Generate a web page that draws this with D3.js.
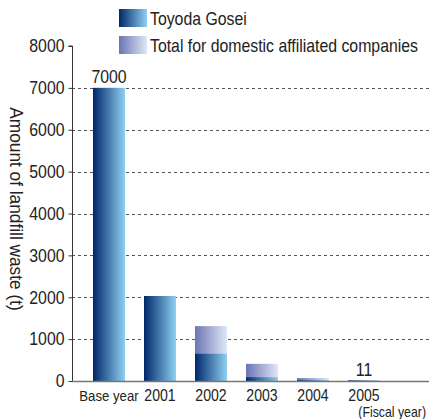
<!DOCTYPE html>
<html><head><meta charset="utf-8">
<script src="https://cdn.jsdelivr.net/npm/d3@7"></script>
<style>
body{margin:0;background:#fff;}
text{font-family:"Liberation Sans",Arial,sans-serif;fill:#222;}
</style></head><body>
<svg id="c" width="429" height="419"></svg>
<script>
const categories = ["Base year","2001","2002","2003","2004","2005"];
const toyodaGosei = [7000, 2030, 650, 90, 20, 11];
const domesticTotal = [7000, 2030, 1310, 410, 70, 20];
const yTicks = [0,1000,2000,3000,4000,5000,6000,7000,8000];
const valueLabels = [{i:0, text:"7000", v:7000},{i:5, text:"11", v:11}];

const svg = d3.select("#c");
const defs = svg.append("defs");
function grad(id, c1, c2){
  const g = defs.append("linearGradient").attr("id",id).attr("x1","0%").attr("x2","100%").attr("y1","0%").attr("y2","0%");
  g.append("stop").attr("offset","0%").attr("stop-color",c1);
  g.append("stop").attr("offset","100%").attr("stop-color",c2);
}
grad("gT","#00286a","#8fd0f2");
grad("gA","#6c74b4","#dfe8f6");

const x0 = 72, x1 = 429;
const y = d3.scaleLinear().domain([0,8000]).range([381,46]);
const x = d3.scaleBand().domain(categories).range([72.6, 400.4]).paddingInner(0.3725).paddingOuter(0.4);

// gridlines
svg.append("g").selectAll("line").data(yTicks.filter(d=>d>0 && d<8000)).join("line")
  .attr("x1",x0).attr("x2",x1).attr("y1",d=>Math.round(y(d))+0.5).attr("y2",d=>Math.round(y(d))+0.5)
  .attr("stroke","#555").attr("stroke-width",1.2).attr("stroke-dasharray","3,3");

// bars: affiliated total behind, Toyoda in front
svg.append("g").selectAll("rect").data(categories).join("rect")
  .attr("x",d=>x(d)).attr("width",x.bandwidth())
  .attr("y",(d,i)=>y(domesticTotal[i])).attr("height",(d,i)=>y(0)-y(domesticTotal[i]))
  .attr("fill","url(#gA)");
svg.append("g").selectAll("rect").data(categories).join("rect")
  .attr("x",d=>x(d)).attr("width",x.bandwidth())
  .attr("y",(d,i)=>y(toyodaGosei[i])).attr("height",(d,i)=>Math.max(1,y(0)-y(toyodaGosei[i])))
  .attr("fill","url(#gT)");

// y axis
const ya = d3.axisLeft(y).tickValues(yTicks).tickSize(4).tickPadding(4).tickFormat(d3.format("d"));
const yg = svg.append("g").attr("transform",`translate(${x0+0.5},0)`).call(ya);
yg.select(".domain").attr("stroke","#333").attr("d",`M-4,${y(8000)}H0V${y(0)}`);
yg.selectAll(".tick line").attr("stroke","#333");
yg.selectAll(".tick text").attr("class","cond").style("font-size","18px").attr("fill","#222");

// x baseline
svg.append("line").attr("x1",x0).attr("x2",x1).attr("y1",381.5).attr("y2",381.5).attr("stroke","#777").attr("stroke-width",1.5);

// x labels
const xa = d3.axisBottom(x).tickSize(0).tickPadding(0);
const xg = svg.append("g").attr("transform","translate(0,381)").call(xa);
xg.select(".domain").remove();
xg.selectAll(".tick text").attr("class","cond").attr("dy",null).attr("y",20).style("font-size","16px").attr("fill","#222");
xg.selectAll(".tick text").filter(d=>d==="Base year").style("font-size","15px");

svg.append("text").attr("class","cond").attr("x",426).attr("y",417).attr("text-anchor","end").style("font-size","14px").text("(Fiscal year)");

// value labels
svg.append("g").selectAll("text").data(valueLabels).join("text").attr("class","cond")
  .attr("x",d=>x(categories[d.i])+x.bandwidth()/2).attr("y",d=>y(d.v)-5)
  .attr("text-anchor","middle").style("font-size","18px").text(d=>d.text);

// axis title
svg.append("text").attr("transform","translate(10,209) rotate(90) scale(0.96,1)").attr("text-anchor","middle")
  .style("font-size","18px").text("Amount of landfill waste (t)");

// legend
const legend = [{name:"Toyoda Gosei", fill:"url(#gT)"},{name:"Total for domestic affiliated companies", fill:"url(#gA)"}];
const lg = svg.append("g").selectAll("g").data(legend).join("g").attr("transform",(d,i)=>`translate(119,${9+i*27})`);
lg.append("rect").attr("width",28).attr("height",18).attr("fill",d=>d.fill);
lg.append("text").attr("class","cond").attr("x",31).attr("y",15.5).style("font-size","18px").text(d=>d.name);

// condense text horizontally (narrow face)
const f = 0.88;
svg.selectAll("text.cond").each(function(){
  const xv = +(this.getAttribute("x") || 0);
  d3.select(this).attr("x", xv / f).attr("transform", `scale(${f},1)`);
});
</script>
</body></html>
